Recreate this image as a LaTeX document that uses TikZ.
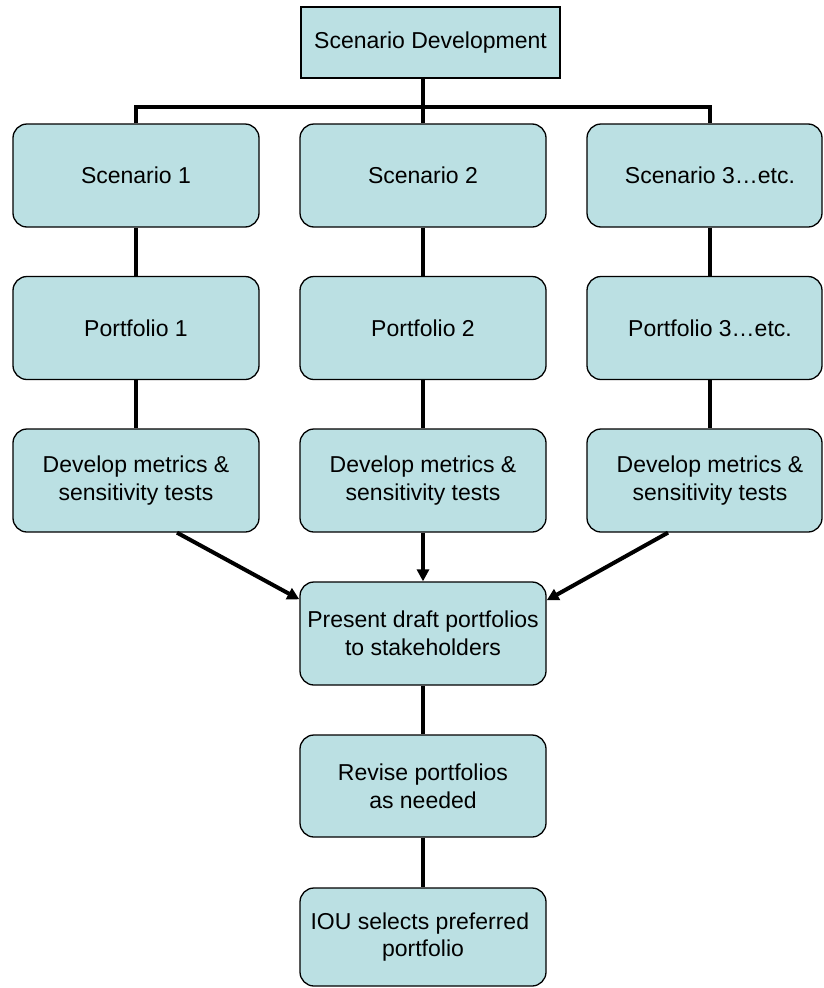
\documentclass[tikz,border=0pt]{standalone}
\usepackage{fontspec}
\setmainfont{Liberation Sans}
\usetikzlibrary{arrows.meta}
\definecolor{boxfill}{RGB}{187,224,227}
\tikzset{
  txt/.style={align=center, inner sep=0pt, font=\fontsize{23}{27.6}\selectfont},
  box/.style={txt, draw=black, line width=1.3pt, fill=boxfill, rounded corners=14pt,
              minimum width=246pt, minimum height=103pt},
  sidebox/.style={box, minimum width=235pt},
  headbox/.style={box, rounded corners=0pt, minimum width=259pt, minimum height=71pt},
  link/.style={line width=4pt},
  flow/.style={line width=4pt, -{Triangle[length=12pt,width=12pt]}},
}
\begin{document}
\begin{tikzpicture}[x=1pt,y=-1pt]
\useasboundingbox (0,0) rectangle (823,988);

% head of the tree
\node[headbox] (top) at (430.5,42.5) {Scenario Development};

% three scenario columns
\node[box] (s1) at (136,175.5) {Scenario 1};
\node[box] (s2) at (423,175.5) {Scenario 2};
\node[sidebox, label={[txt, xshift=5.5pt]center:Scenario 3…etc.}] (s3) at (704.5,175.5) {};

\node[box] (p1) at (136,328) {Portfolio 1};
\node[box] (p2) at (423,328) {Portfolio 2};
\node[sidebox, label={[txt, xshift=5.5pt]center:Portfolio 3…etc.}] (p3) at (704.5,328) {};

\node[box] (d1) at (136,480.5) {Develop metrics \&\\sensitivity tests};
\node[box] (d2) at (423,480.5) {Develop metrics \&\\sensitivity tests};
\node[sidebox, label={[txt, xshift=5.5pt]center:{Develop metrics \&\\sensitivity tests}}] (d3) at (704.5,480.5) {};

% common path
\node[box] (pres) at (423,633.5) {Present draft portfolios\\to stakeholders};
\node[box, minimum height=102pt] (rev) at (423,786) {Revise portfolios\\as needed};
\node[box, minimum height=98pt] (iou) at (423,937) {IOU selects preferred\hspace*{6.4pt}\\portfolio};

% branching bar
\coordinate (bar) at (423,107);
\draw[link] (top.south -| s2.north) -- (s2.north);
\draw[link] (s1.north) |- (bar) -| ([xshift=5.5pt]s3.north);

% column links
\draw[link] (s1) -- (p1);
\draw[link] (p1) -- (d1);
\draw[link] (s2) -- (p2);
\draw[link] (p2) -- (d2);
\draw[link] ([xshift=5.5pt]s3.south) -- ([xshift=5.5pt]p3.north);
\draw[link] ([xshift=5.5pt]p3.south) -- ([xshift=5.5pt]d3.north);

% merge into the draft presentation
\draw[flow] ([xshift=41pt]d1.south) -- ([yshift=-18pt]pres.north west);
\draw[flow] (d2.south) -- (pres.north);
\draw[flow] ([xshift=-36.5pt]d3.south) -- ([yshift=-19pt]pres.north east);

% final steps
\draw[link] (pres) -- (rev);
\draw[link] (rev) -- (iou);
\end{tikzpicture}
\end{document}
